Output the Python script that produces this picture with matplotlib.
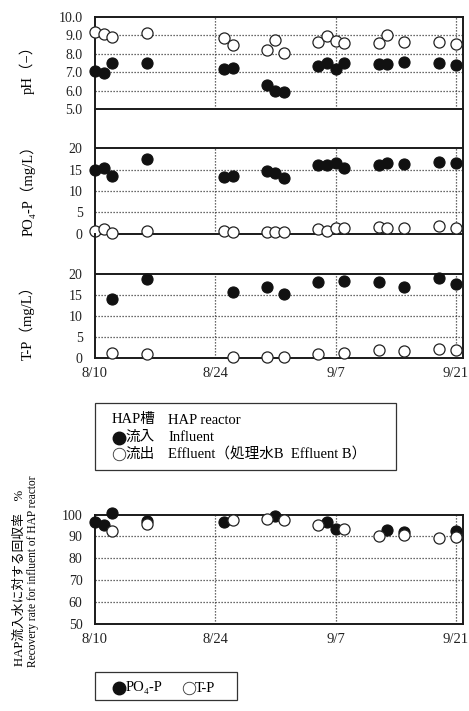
import matplotlib
matplotlib.use('Agg')
import matplotlib.pyplot as plt
import matplotlib.dates as mdates
from matplotlib.lines import Line2D
from matplotlib.patches import Rectangle
import pandas as pd

plt.rcParams['font.family'] = ['Liberation Serif', 'DejaVu Serif', 'Noto Sans CJK JP']

# ---------------- data ----------------
year = '2015'
ph_dates = ['8/10', '8/11', '8/12', '8/16', '8/25', '8/26', '8/30', '8/31', '9/1',
            '9/5', '9/6', '9/7', '9/8', '9/12', '9/13', '9/15', '9/19', '9/21']
ph_in = [7.08, 6.95, 7.51, 7.51, 7.17, 7.24, 6.28, 5.97, 5.94,
         7.33, 7.51, 7.15, 7.51, 7.42, 7.42, 7.56, 7.47, 7.38]
ph_out = [9.15, 9.06, 8.88, 9.10, 8.83, 8.47, 8.19, 8.74, 8.05,
          8.65, 8.95, 8.70, 8.59, 8.59, 9.01, 8.65, 8.65, 8.50]

po4_dates = ph_dates
po4_in = [14.9, 15.3, 13.4, 17.5, 13.2, 13.4, 14.7, 14.1, 13.0,
          16.1, 16.1, 16.5, 15.3, 16.1, 16.5, 16.3, 16.9, 16.5]
po4_out = [0.7, 1.0, 0.1, 0.7, 0.6, 0.3, 0.3, 0.3, 0.5,
           1.0, 0.6, 1.4, 1.25, 1.6, 1.25, 1.4, 1.8, 1.4]

tp_dates = ['8/12', '8/16', '8/26', '8/30', '9/1', '9/5', '9/8', '9/12', '9/15', '9/19', '9/21']
tp_in = [14.1, 18.7, 15.8, 16.8, 15.3, 18.2, 18.3, 18.2, 16.8, 19.0, 17.6]
tp_out = [1.2, 0.95, 0.4, 0.4, 0.4, 0.95, 1.2, 2.0, 1.8, 2.2, 2.0]

rec_po4_dates = ['8/10', '8/11', '8/12', '8/16', '8/25', '8/31', '9/6', '9/7', '9/13', '9/15', '9/21']
rec_po4 = [96.6, 95.3, 100.5, 97.0, 96.6, 99.1, 96.8, 93.5, 93.1, 92.1, 92.3]
rec_tp_dates = tp_dates
rec_tp = [92.6, 95.8, 97.6, 98.1, 97.3, 95.0, 93.5, 90.0, 90.8, 89.5, 89.7]

tick_dates = ['8/10', '8/24', '9/7', '9/21']
tick_labels = ['8/10', '8/24', '9/7', '9/21']
grid_dates = ['8/24', '9/7', '9/21']

ph_ticks = [5.0, 6.0, 7.0, 8.0, 9.0, 10.0]
conc_ticks = [0, 5, 10, 15, 20]
rec_ticks = [50, 60, 70, 80, 90, 100]

# ---------------- helpers ----------------
def dn(labels):
    return mdates.date2num(pd.to_datetime([year + '/' + s for s in labels]).to_pydatetime())

W, H = 469, 711
fig = plt.figure(figsize=(W / 100, H / 100), dpi=100)

def fx(px):
    return px / W

def fy(py):
    return 1 - py / H

X0, X1 = 95, 463
xmin = dn(['8/10'])[0]
xmax = dn(['9/21'])[0] + 0.82

DOT = (0, (1, 1.4))
GRIDC = '#3a3a3a'
SPC = '#1a1a1a'
SPW = 1.4
BLK = '#111111'
MS = 64

def make_ax(ytop, ybot):
    ax = fig.add_axes([fx(X0), fy(ybot), fx(X1) - fx(X0), (ybot - ytop) / H])
    ax.set_xlim(xmin, xmax)
    for s in ax.spines.values():
        s.set_color(SPC)
        s.set_linewidth(SPW)
    ax.tick_params(length=0)
    ax.tick_params(axis='y', pad=9, labelsize=10, colors='#222222')
    ax.tick_params(axis='x', pad=6, labelsize=10.5, colors='#222222')
    ax.set_facecolor('none')
    return ax

def points(ax, dates, vals, filled):
    if filled:
        ax.scatter(dn(dates), vals, s=MS, facecolor=BLK, edgecolor=BLK, linewidth=0.8,
                   zorder=5, clip_on=False)
    else:
        ax.scatter(dn(dates), vals, s=MS, facecolor='white', edgecolor='#222222', linewidth=0.9,
                   zorder=6, clip_on=False)

def hgrid(ax, levels):
    for v in levels:
        ax.axhline(v, color=GRIDC, lw=0.9, ls=DOT, zorder=1)

def vgrid(ax, lo, hi):
    ax.vlines(dn(grid_dates), lo, hi, colors=GRIDC, linewidth=0.9, linestyles=[DOT], zorder=1)

# ---------------- pH ----------------
ax1 = make_ax(16.7, 109)
ax1.set_ylim(5, 10)
ax1.set_yticks(ph_ticks)
ax1.set_yticklabels([f'{v:.1f}' for v in ph_ticks])
ax1.set_xticks([])
hgrid(ax1, [6, 7, 8, 9])
vgrid(ax1, 5, 10)
points(ax1, ph_dates, ph_in, True)
points(ax1, ph_dates, ph_out, False)

# ---------------- PO4-P ----------------
ax2 = make_ax(109, 233.7)
ax2.set_ylim(0, 29.2)
ax2.spines['top'].set_visible(False)
ax2.set_yticks(conc_ticks)
ax2.set_xticks([])
hgrid(ax2, [5, 10, 15])
ax2.axhline(20, color=SPC, lw=SPW, zorder=2)
vgrid(ax2, 0, 20)
points(ax2, po4_dates, po4_in, True)
points(ax2, po4_dates, po4_out, False)

# ---------------- T-P ----------------
ax3 = make_ax(233.7, 358.3)
ax3.set_ylim(0, 29.56)
ax3.spines['top'].set_visible(False)
ax3.set_yticks(conc_ticks)
ax3.set_xticks(dn(tick_dates))
ax3.set_xticklabels(tick_labels)
hgrid(ax3, [5, 10, 15])
ax3.axhline(20, color=SPC, lw=SPW, zorder=2)
vgrid(ax3, 0, 20)
points(ax3, tp_dates, tp_in, True)
points(ax3, tp_dates, tp_out, False)

# ---------------- recovery ----------------
ax4 = make_ax(514.5, 624.3)
ax4.set_ylim(50, 100)
ax4.set_yticks(rec_ticks)
ax4.set_xticks(dn(tick_dates))
ax4.set_xticklabels(tick_labels)
hgrid(ax4, [60, 70, 80, 90])
vgrid(ax4, 50, 100)
points(ax4, rec_po4_dates, rec_po4, True)
points(ax4, rec_tp_dates, rec_tp, False)

# ---------------- axis labels ----------------
fig.text(fx(27), fy(66), 'pH（−）', rotation=90, ha='center', va='center', fontsize=10.5)
fig.text(fx(28), fy(187), 'PO₄-P（mg/L）', rotation=90, ha='center', va='center', fontsize=10.5)
fig.text(fx(27.5), fy(319), 'T-P（mg/L）', rotation=90, ha='center', va='center', fontsize=10.5)
fig.text(fx(20), fy(578), 'HAP流入水に対する回収率　%', rotation=90, ha='center', va='center',
         fontsize=9.2)
fig.text(fx(33), fy(571), 'Recovery rate for influent of HAP reactor', rotation=90,
         ha='center', va='center', fontsize=8.3)

# ---------------- legend 1 ----------------
fig.add_artist(Rectangle((fx(95), fy(470)), fx(396) - fx(95), (470 - 403) / H,
                         transform=fig.transFigure, fill=False, edgecolor='#333333', lw=0.9))
LFS = 10.5
fig.text(fx(111.5), fy(420), 'HAP槽', ha='left', va='center', fontsize=LFS)
fig.text(fx(168), fy(420), 'HAP reactor', ha='left', va='center', fontsize=LFS)
fig.add_artist(Line2D([fx(118.5)], [fy(437.5)], transform=fig.transFigure, marker='o', ms=9,
                      mfc=BLK, mec=BLK, ls='none'))
fig.text(fx(125), fy(437.5), '流入', ha='left', va='center', fontsize=LFS)
fig.text(fx(168), fy(437.5), 'Influent', ha='left', va='center', fontsize=LFS)
fig.add_artist(Line2D([fx(118.5)], [fy(454)], transform=fig.transFigure, marker='o', ms=9,
                      mfc='white', mec='#333333', mew=0.6, ls='none'))
fig.text(fx(125), fy(454), '流出', ha='left', va='center', fontsize=LFS)
fig.text(fx(168), fy(454), 'Effluent（処理水B  Effluent B）', ha='left', va='center', fontsize=LFS)

# ---------------- legend 2 ----------------
fig.add_artist(Rectangle((fx(95), fy(700)), fx(236.7) - fx(95), (700 - 672.3) / H,
                         transform=fig.transFigure, fill=False, edgecolor='#333333', lw=0.9))
fig.add_artist(Line2D([fx(119)], [fy(688)], transform=fig.transFigure, marker='o', ms=9,
                      mfc=BLK, mec=BLK, ls='none'))
fig.text(fx(126), fy(688), 'PO₄-P', ha='left', va='center', fontsize=LFS)
fig.add_artist(Line2D([fx(188.5)], [fy(688)], transform=fig.transFigure, marker='o', ms=9,
                      mfc='white', mec='#333333', mew=0.6, ls='none'))
fig.text(fx(195), fy(688), 'T-P', ha='left', va='center', fontsize=LFS)

fig.savefig('out.png', dpi=100, facecolor='white')
